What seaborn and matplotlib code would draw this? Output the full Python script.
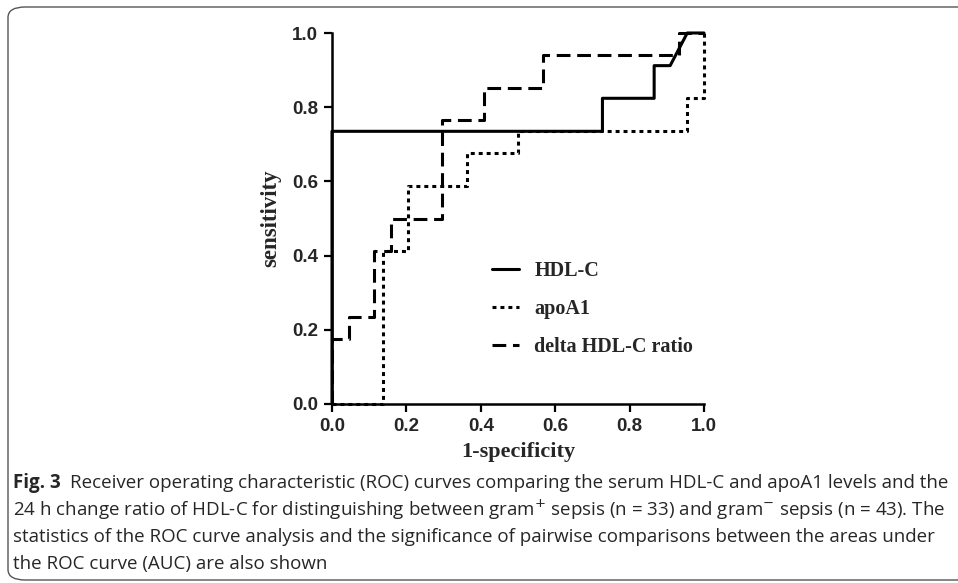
import matplotlib
matplotlib.use("Agg")
import matplotlib.pyplot as plt
from matplotlib.patches import FancyBboxPatch
import pandas as pd
import seaborn as sns

# ROC curve vertices (1-specificity, sensitivity)
hdl_x = [0.0, 0.0, 0.727, 0.727, 0.866, 0.866, 0.909, 0.955, 1.0]
hdl_y = [0.0, 0.735, 0.735, 0.824, 0.824, 0.912, 0.912, 1.0, 1.0]

apo_x = [0.0, 0.136, 0.136, 0.205, 0.205, 0.364, 0.364, 0.5, 0.5, 0.955, 0.955, 1.0, 1.0]
apo_y = [0.0, 0.0, 0.412, 0.412, 0.588, 0.588, 0.676, 0.676, 0.735, 0.735, 0.824, 0.824, 1.0]

delta_x = [0.0, 0.0, 0.045, 0.045, 0.114, 0.114, 0.159, 0.159, 0.295, 0.295,
           0.409, 0.409, 0.568, 0.568, 0.932, 0.932, 1.0]
delta_y = [0.0, 0.176, 0.176, 0.235, 0.235, 0.412, 0.412, 0.5, 0.5, 0.765,
           0.765, 0.853, 0.853, 0.941, 0.941, 1.0, 1.0]

labels = ["HDL-C", "apoA1", "delta HDL-C ratio"]
ticks = [0.0, 0.2, 0.4, 0.6, 0.8, 1.0]

caption = [
    "Receiver operating characteristic (ROC) curves comparing the serum HDL-C and apoA1 levels and the",
    "24 h change ratio of HDL-C for distinguishing between gram$^{+}$ sepsis (n = 33) and gram$^{-}$ sepsis (n = 43). The",
    "statistics of the ROC curve analysis and the significance of pairwise comparisons between the areas under",
    "the ROC curve (AUC) are also shown",
]

sns.set_style("ticks")

fig = plt.figure(figsize=(9.58, 5.83), dpi=100)
ax = fig.add_axes([332 / 958, 1 - 404 / 583, 372 / 958, 371 / 583])

styles = ["-", (0, (1.3, 1.3)), (0, (4.5, 2.2))]
curves = [(hdl_x, hdl_y), (apo_x, apo_y), (delta_x, delta_y)]
for (cx, cy), lab, ls in zip(curves, labels, styles):
    df = pd.DataFrame({"x": cx, "y": cy})
    sns.lineplot(data=df, x="x", y="y", sort=False, estimator=None, ax=ax,
                 color="black", linewidth=2.2, linestyle=ls, label=lab,
                 clip_on=False)

ax.set_xlim(0, 1)
ax.set_ylim(0, 1)
ax.set_xticks(ticks)
ax.set_yticks(ticks)
ax.set_xticklabels([f"{t:.1f}" for t in ticks])
ax.set_yticklabels([f"{t:.1f}" for t in ticks])
for lbl in ax.get_xticklabels() + ax.get_yticklabels():
    lbl.set_fontfamily("Liberation Sans")
    lbl.set_fontweight("bold")
    lbl.set_fontsize(13.5)
ax.tick_params(direction="out", length=6, width=1.6, pad=4, color="black")
for sp in ["left", "bottom"]:
    ax.spines[sp].set_linewidth(1.8)
    ax.spines[sp].set_color("black")
sns.despine(ax=ax)

ax.set_xlabel("1-specificity", fontfamily="Liberation Serif", fontweight="bold",
              fontsize=16, labelpad=5)
ax.set_ylabel("sensitivity", fontfamily="Liberation Serif", fontweight="bold",
              fontsize=16.5, labelpad=8)

leg = ax.legend(loc="upper left", bbox_to_anchor=(0.43, 0.385), frameon=False,
                handlelength=1.35, handletextpad=0.75, labelspacing=0.9,
                borderpad=0, borderaxespad=0,
                prop={"family": "Liberation Serif", "weight": "bold", "size": 14.5})

# caption
y0 = 1 - 483 / 583
fs = 13.5
for i, line in enumerate(caption):
    y = y0 - i * 27 / 583
    if i == 0:
        t = fig.text(13 / 958, y, "Fig. 3", fontfamily="Open Sans", fontweight="bold",
                     fontsize=fs, va="center", ha="left")
        fig.canvas.draw()
        bb = t.get_window_extent()
        fig.text((bb.x1 + 9) / 958, y, line, fontfamily="Open Sans", fontsize=fs,
                 va="center", ha="left")
    else:
        fig.text(13 / 958, y, line, fontfamily="Open Sans", fontsize=fs,
                 va="center", ha="left")

# rounded frame around the figure panel
frame = FancyBboxPatch((8 / 958, 3 / 583), 1.2, 573 / 583,
                       boxstyle="round,pad=0,rounding_size=0.018",
                       transform=fig.transFigure, fill=False,
                       edgecolor="#555555", linewidth=1.0)
fig.patches.append(frame)

fig.savefig("out.png", dpi=100)
